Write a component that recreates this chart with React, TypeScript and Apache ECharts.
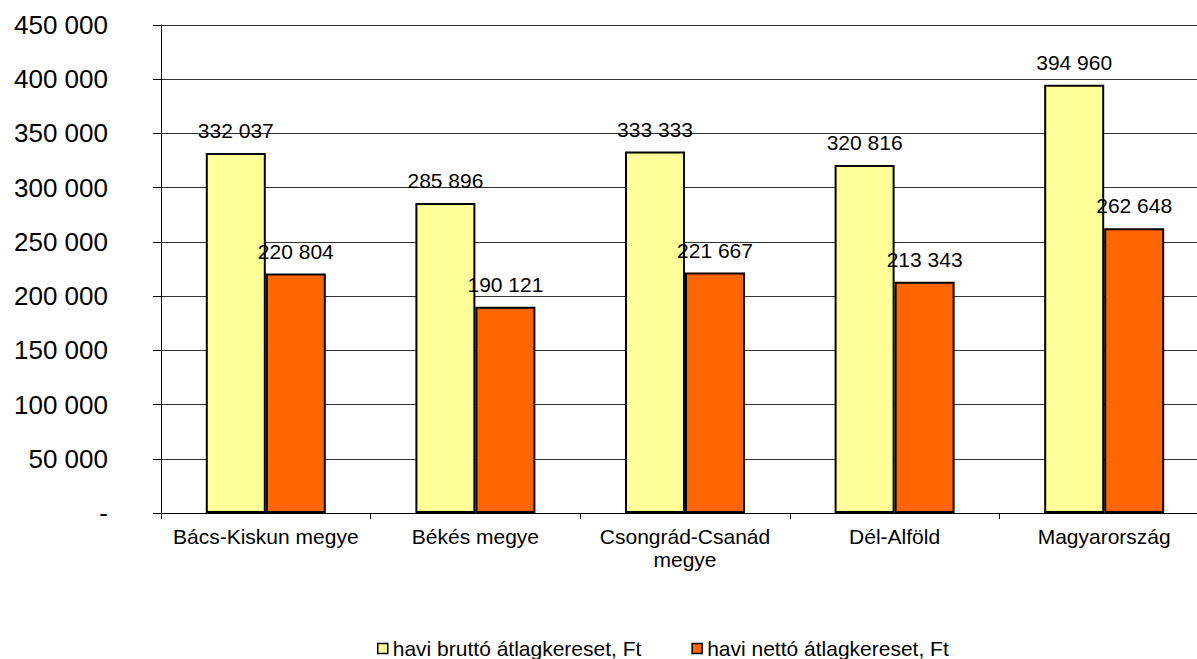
import React, { useEffect, useRef } from "react";
import * as echarts from "echarts";

const categories = ["Bács-Kiskun megye", "Békés megye", "Csongrád-Csanád\nmegye", "Dél-Alföld", "Magyarország"];
const brutto = [332037, 285896, 333333, 320816, 394960];
const netto = [220804, 190121, 221667, 213343, 262648];
const seriesNames = ["havi bruttó átlagkereset, Ft", "havi nettó átlagkereset, Ft"];

const fmt = (v: number) => {
  if (v === 0) return "-";
  return String(Math.round(v)).replace(/\B(?=(\d{3})+(?!\d))/g, " ");
};

export default function App() {
  const ref = useRef<HTMLDivElement>(null);
  useEffect(() => {
    document.body.style.margin = "0";
    const chart = echarts.init(ref.current!, null, { renderer: "svg" });
    const font = "Liberation Sans, Arial, sans-serif";
    const label = {
      show: true,
      position: "top" as const,
      distance: 12,
      color: "#000",
      fontSize: 21,
      fontFamily: font,
      formatter: (p: any) => fmt(p.value),
    };
    chart.setOption({
      animation: false,
      backgroundColor: "#fff",
      textStyle: { fontFamily: font },
      grid: { left: 161, top: 25, height: 488, width: 1048, containLabel: false, outerBoundsMode: "none" },
      legend: {
        left: 372,
        top: 633,
        itemWidth: 10,
        itemHeight: 10,
        itemGap: 50,
        icon: "rect",
        itemStyle: { borderColor: "#000", borderWidth: 1.5 },
        textStyle: { fontSize: 21, color: "#000", fontFamily: font },
        data: seriesNames,
      },
      xAxis: {
        type: "category",
        data: categories,
        axisLine: { lineStyle: { color: "#000", width: 1 } },
        axisTick: { show: true, length: 6, lineStyle: { color: "#000" } },
        axisLabel: { color: "#000", fontSize: 21, fontFamily: font, margin: 12, lineHeight: 23, interval: 0 },
      },
      yAxis: {
        type: "value",
        min: 0,
        max: 450000,
        interval: 50000,
        axisLine: { show: true, lineStyle: { color: "#000", width: 1 } },
        axisTick: { show: true, length: 8, lineStyle: { color: "#000" } },
        axisLabel: { color: "#000", fontSize: 26, fontFamily: font, margin: 53, formatter: (v: number) => fmt(v) },
        splitLine: { show: true, lineStyle: { color: "#333", width: 1 } },
      },
      series: [
        {
          name: seriesNames[0],
          type: "bar",
          data: brutto,
          barWidth: 60,
          barGap: "0%",
          itemStyle: { color: "#FFFF99", borderColor: "#000", borderWidth: 2 },
          label,
        },
        {
          name: seriesNames[1],
          type: "bar",
          data: netto,
          barWidth: 60,
          barGap: "0%",
          itemStyle: { color: "#FF6600", borderColor: "#000", borderWidth: 2 },
          label,
        },
      ],
    });
    return () => chart.dispose();
  }, []);
  return <div ref={ref} style={{ width: 1197, height: 659 }} />;
}
